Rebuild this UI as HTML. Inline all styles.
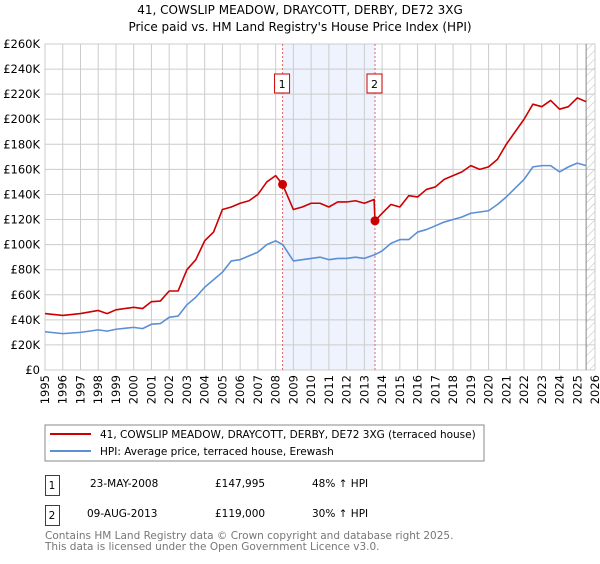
<!DOCTYPE html>
<html><head><meta charset="utf-8"><style>
body{margin:0;background:#fff;width:600px;height:560px;overflow:hidden;font-family:"DejaVu Sans","Liberation Sans",sans-serif}
svg text{font-family:"DejaVu Sans","Liberation Sans",sans-serif}
</style></head><body>
<svg id="c" width="600" height="560" xmlns="http://www.w3.org/2000/svg">
<text x="300" y="14" text-anchor="middle" font-size="12">41, COWSLIP MEADOW, DRAYCOTT, DERBY, DE72 3XG</text>
<text x="300" y="31" text-anchor="middle" font-size="12">Price paid vs. HM Land Registry's House Price Index (HPI)</text>
<defs><pattern id="h" width="6" height="6" patternUnits="userSpaceOnUse" patternTransform="rotate(45)"><line x1="0" y1="0" x2="0" y2="6" stroke="#bbb" stroke-width="1"/></pattern></defs>
<g id="plot"></g>
<rect x="45" y="425" width="439" height="36" fill="none" stroke="#888"/>
<line x1="50" y1="434" x2="91" y2="434" stroke="#cc0000" stroke-width="2"/>
<text x="100" y="438" font-size="10.5">41, COWSLIP MEADOW, DRAYCOTT, DERBY, DE72 3XG (terraced house)</text>
<line x1="50" y1="451" x2="91" y2="451" stroke="#5b8fd6" stroke-width="2"/>
<text x="100" y="455" font-size="10.5">HPI: Average price, terraced house, Erewash</text>
<g font-size="10.5">
<rect x="45.5" y="475.5" width="14" height="20" fill="none" stroke="#cc0000"/><text x="52" y="489" text-anchor="middle">1</text>
<text x="90" y="487">23-MAY-2008</text><text x="215" y="487">£147,995</text><text x="312" y="487">48% ↑ HPI</text>
<rect x="45.5" y="505.5" width="14" height="20" fill="none" stroke="#cc0000"/><text x="52" y="519" text-anchor="middle">2</text>
<text x="87" y="517">09-AUG-2013</text><text x="215" y="517">£119,000</text><text x="312" y="517">30% ↑ HPI</text>
</g>
<text x="45" y="539" font-size="10.5" fill="#777">Contains HM Land Registry data © Crown copyright and database right 2025.</text>
<text x="45" y="550" font-size="10.5" fill="#777">This data is licensed under the Open Government Licence v3.0.</text>
</svg>
<script>
const hpiYears=[1995,1996,1997,1998,1998.5,1999,2000,2000.5,2001,2001.5,2002,2002.5,2003,2003.5,2004,2004.5,2005,2005.5,2006,2006.5,2007,2007.5,2008,2008.4,2009,2009.5,2010,2010.5,2011,2011.5,2012,2012.5,2013,2013.6,2014,2014.5,2015,2015.5,2016,2016.5,2017,2017.5,2018,2018.5,2019,2019.5,2020,2020.5,2021,2021.5,2022,2022.5,2023,2023.5,2024,2024.5,2025,2025.5];
const hpiValues=[30.5,29,30,32,31,32.5,34,33,36.5,37,42,43,52,58,66,72,78,87,88,91,94,100,103,100,87,88,89,90,88,89,89,90,89,92,95,101,104,104,110,112,115,118,120,122,125,126,127,132,138,145,152,162,163,163,158,162,165,163];
const propYears=[1995,1996,1997,1998,1998.5,1999,2000,2000.5,2001,2001.5,2002,2002.5,2003,2003.5,2004,2004.5,2005,2005.5,2006,2006.5,2007,2007.5,2008,2008.39,2009,2009.5,2010,2010.5,2011,2011.5,2012,2012.5,2013,2013.55,2013.6,2014,2014.5,2015,2015.5,2016,2016.5,2017,2017.5,2018,2018.5,2019,2019.5,2020,2020.5,2021,2021.5,2022,2022.5,2023,2023.5,2024,2024.5,2025,2025.5];
const propValues=[45,43.5,45,47.5,45,48,50,49,54.5,55,63,63,80,88,103,110,128,130,133,135,140,150,155,148,128,130,133,133,130,134,134,135,133,136,119,125,132,130,139,138,144,146,152,155,158,163,160,162,168,180,190,200,212,210,215,208,210,217,214];
const saleYears=[2008.39,2013.6];
const saleValues=[147.995,119];
const saleLabels=["1","2"];
const yTicks=[0,20,40,60,80,100,120,140,160,180,200,220,240,260];
const xTicks=[1995,1996,1997,1998,1999,2000,2001,2002,2003,2004,2005,2006,2007,2008,2009,2010,2011,2012,2013,2014,2015,2016,2017,2018,2019,2020,2021,2022,2023,2024,2025,2026];
const NS="http://www.w3.org/2000/svg";
const L=45,R=595,T=44,B=370;
const X=y=>L+(y-1995)/(2026-1995)*(R-L);
const Y=v=>B-v/260*(B-T);
const g=document.getElementById('plot');
function mk(t,a){const e=document.createElementNS(NS,t);for(const k in a)e.setAttribute(k,a[k]);g.appendChild(e);return e;}
const shade=mk('rect',{x:X(saleYears[0]),y:T,width:X(saleYears[1])-X(saleYears[0]),height:B-T,fill:'#eef3fd'});


const hatch=mk('rect',{x:X(2025.5),y:T,width:R-X(2025.5),height:B-T,fill:'url(#h)'});


yTicks.forEach(v=>{
 const l=mk('line',{x1:L,x2:R,y1:Y(v),y2:Y(v),stroke:'#ccc'});
 
 
 const t=mk('text',{x:L-5,y:Y(v)+4,'text-anchor':'end','font-size':'11.5'});
 t.textContent=v===0?'£0':'£'+v+'K';
 
 
});
xTicks.forEach(y=>{
 const l=mk('line',{x1:X(y),x2:X(y),y1:T,y2:B,stroke:'#ccc'});
 
 
 const t=mk('text',{x:0,y:0,'text-anchor':'end','font-size':'11.5',transform:`translate(${X(y)+4},${B+5}) rotate(-90)`});
 t.textContent=y;
 
 
});
const ax=mk('rect',{x:L,y:T,width:R-L,height:B-T,fill:'none',stroke:'#ccc'});


const cut=mk('line',{x1:X(2025.5),x2:X(2025.5),y1:T,y2:B,stroke:'#888'});


saleYears.forEach((y,i)=>{
 const l=mk('line',{x1:X(y),x2:X(y),y1:T,y2:B,stroke:'#e06666','stroke-dasharray':'2,2'});
 
 
 const r=mk('rect',{x:X(y)-8,y:74,width:15,height:19,fill:'#fff',stroke:'#cc0000'});
 
 
 const t=mk('text',{x:X(y)-0.5,y:88,'text-anchor':'middle','font-size':'11'});
 t.textContent=saleLabels[i];
 
 
});
function line(xs,vs,c,n){
 const p=mk('polyline',{points:xs.map((x,i)=>X(x)+','+Y(vs[i])).join(' '),fill:'none',stroke:c,'stroke-width':'1.6','stroke-linejoin':'round'});
 
 
}
line(hpiYears,hpiValues,'#5b8fd6','hpi-line');
line(propYears,propValues,'#cc0000','property-line');
saleYears.forEach((y,i)=>{
 const c=mk('circle',{cx:X(y),cy:Y(saleValues[i]),r:4.5,fill:'#cc0000'});
 
 
});
</script>
</body></html>
